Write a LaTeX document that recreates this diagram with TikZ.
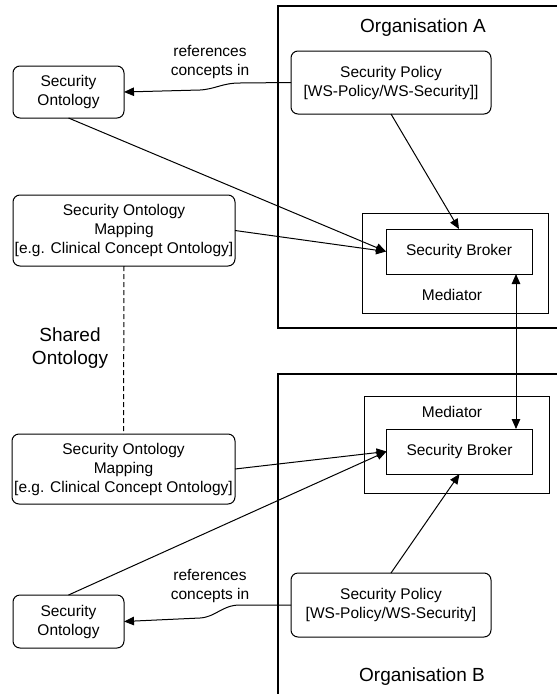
\documentclass[tikz,border=0pt]{standalone}
\usepackage{fontspec}
\setmainfont{Liberation Sans}
\usetikzlibrary{arrows.meta}
\begin{document}
\begin{tikzpicture}[x=1pt,y=-1pt,
  every node/.style={inner sep=0pt, outer sep=0pt},
  txt/.style={font=\fontsize{15.5}{19}\selectfont, align=center},
  bigtxt/.style={font=\fontsize{19}{23}\selectfont, align=center},
  rbox/.style={txt, draw, line width=1pt, rounded corners=7pt},
  sbox/.style={txt, draw, line width=1pt},
  link/.style={line width=1pt},
  arr/.style={link, -{Triangle[length=10pt,width=8.5pt]}},
  dblarr/.style={link, {Triangle[length=10pt,width=8.5pt]}-{Triangle[length=10pt,width=8.5pt]}},
  frame/.style={line width=1.1pt}]
\useasboundingbox (0,0) rectangle (557,694);
\fill[white] (0,0) rectangle (557,694);

% organisation frames (open to the right)
\draw[frame] (570,6) -- (278,6) -- (278,328) -- (570,328);
\draw[frame] (570,374) -- (278,374) -- (278,700);
\node[bigtxt] (orgA) at (423,28) {Organisation A};
\node[bigtxt] (orgB) at (422,677) {Organisation B};

% mediators with their brokers
\node[sbox, minimum width=186pt, minimum height=100pt] (medA) at (455,263) {};
\node[sbox, minimum width=146pt, minimum height=45pt] (brkA) at (459,251.5) {Security Broker};
\node[txt] (medAlbl) at (452,295) {Mediator};

\node[sbox, minimum width=185pt, minimum height=97pt] (medB) at (456.5,444.5) {};
\node[sbox, minimum width=146pt, minimum height=45pt] (brkB) at (459.5,451.5) {Security Broker};
\node[txt] (medBlbl) at (452,412) {Mediator};

% policies
\node[rbox, minimum width=200pt, minimum height=63pt] (polA) at (391,82.5)
  {Security Policy\\{}[WS-Policy/WS-Security]]};
\node[rbox, minimum width=200pt, minimum height=64pt] (polB) at (391,605)
  {Security Policy\\{}[WS-Policy/WS-Security]};

% ontologies and mappings
\node[rbox, minimum width=111pt, minimum height=52pt] (ontA) at (68.5,92) {Security\\Ontology};
\node[rbox, minimum width=222pt, minimum height=71pt] (mapA) at (124,230.5)
  {Security Ontology\\Mapping\\{}[e.g. Clinical Concept Ontology]};
\node[rbox, minimum width=223pt, minimum height=70pt] (mapB) at (123.5,469)
  {Security Ontology\\Mapping\\{}[e.g. Clinical Concept Ontology]};
\node[rbox, minimum width=111pt, minimum height=53pt] (ontB) at (68.5,621.5) {Security\\Ontology};

\node[bigtxt] (shared) at (70,348) {Shared\\Ontology};
\node[txt] (refA) at (210,62) {references\\concepts in};
\node[txt] (refB) at (210,586) {references\\concepts in};

% connectors
\draw[arr] (polA.west) -- (240,83) .. controls (222,83) and (216,89) .. (200,90) -- (ontA.east);
\draw[arr] (polB.west) -- (240,605) .. controls (222,605) and (216,617) .. (200,618) -- (ontB.east);

\draw[arr] (ontA.south) -- (brkA.west);
\draw[arr] (mapA.east) -- (brkA.west);
\draw[arr] (polA.south) -- (brkA.north);

\draw[arr] (mapB.east) -- (brkB.west);
\draw[arr] (ontB.north) -- (brkB.west);
\draw[arr] (polB.north) -- (brkB.south);

\draw[dblarr] ([xshift=57pt]brkA.south) -- ([xshift=56.5pt]brkB.north);
\draw[link, dashed, dash pattern=on 5pt off 3pt] (mapA.south) -- (mapB.north);
\end{tikzpicture}
\end{document}
